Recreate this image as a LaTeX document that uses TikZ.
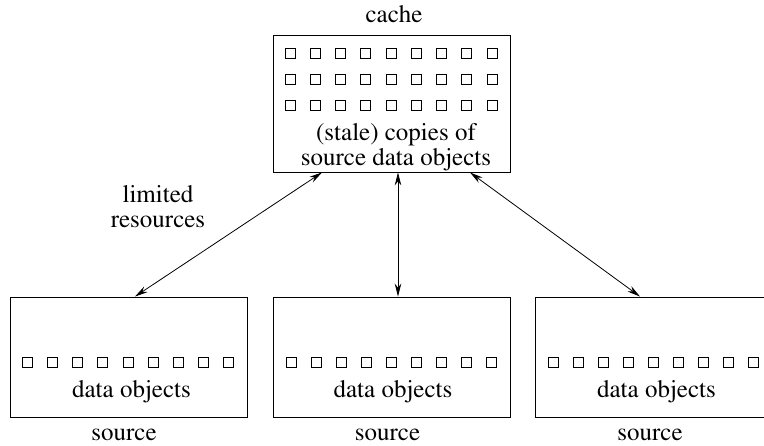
\documentclass[tikz,border=0pt]{standalone}
\usepackage[T1]{fontenc}
\usepackage{times}
\usetikzlibrary{arrows.meta}
\begin{document}
\begin{tikzpicture}[x=1pt,y=-1pt,>={Stealth[length=13pt,width=6.5pt]},font=\rmfamily\fontsize{25}{25}\selectfont,
	box/.style={draw,line width=0.9pt,minimum width=237pt,inner sep=0pt},
	obj/.style={line width=0.8pt},
	link/.style={<->,line width=0.8pt}]
	\useasboundingbox (0,0) rectangle (764,446);
	% cache and sources
	\node[box,minimum height=137pt] (cache) at (391.5,103.5) {};
	\node[box,minimum height=120pt] (srcA) at (129,357) {};
	\node[box,minimum height=120pt] (srcB) at (392,357) {};
	\node[box,minimum height=120pt] (srcC) at (654,357) {};
	% data objects
	\foreach \r in {48,74,100}
		\foreach \i in {0,...,8}
			\draw[obj] ({285+25.25*\i},\r) rectangle +(10,10);
	\foreach \s in {22.5,286,548}
		\foreach \i in {0,...,8}
			\draw[obj] ({\s+25.1*\i},357) rectangle +(10,10);
	% labels
	\node[anchor=base] (cachelbl) at (394,23) {cache};
	\node[anchor=base] (copies) at (396,141) {(stale) copies of};
	\node[anchor=base] (copiesb) at (396,166) {source data objects};
	\node[anchor=base] (objA) at (131.5,398) {data objects};
	\node[anchor=base] (objB) at (393,398) {data objects};
	\node[anchor=base] (objC) at (656.5,398) {data objects};
	\node[anchor=base] (srclblA) at (124,441) {source};
	\node[anchor=base] (srclblB) at (387.5,441) {source};
	\node[anchor=base] (srclblC) at (650,441) {source};
	\node[anchor=base] (limited) at (158,203) {limited};
	\node[anchor=base] (resources) at (158,228) {resources};
	% links
	\draw[link] ([xshift=-69.5pt]cache.south) -- ([xshift=6pt]srcA.north);
	\draw[link] ([xshift=6.5pt]cache.south) -- ([xshift=6pt]srcB.north);
	\draw[link] ([xshift=78.5pt]cache.south) -- ([xshift=-14pt]srcC.north);
\end{tikzpicture}
\end{document}
